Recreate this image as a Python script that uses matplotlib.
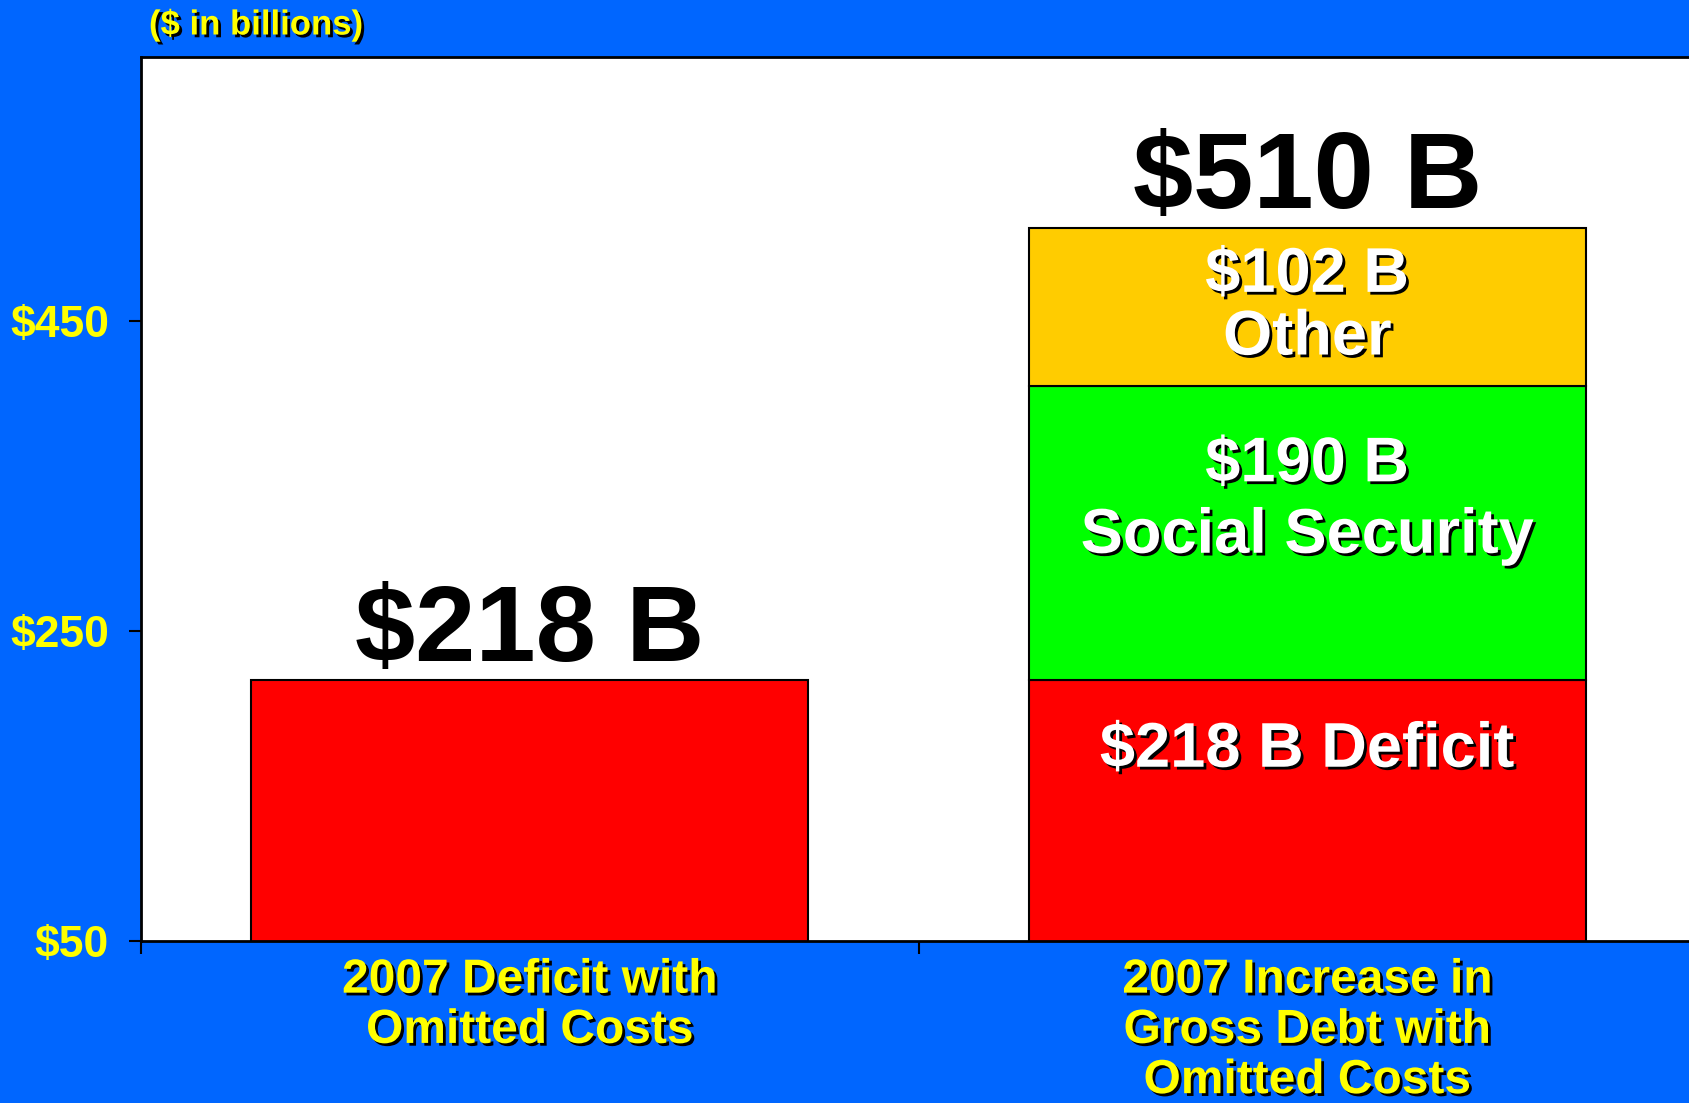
import matplotlib
matplotlib.use("Agg")
import matplotlib.pyplot as plt
import matplotlib.patheffects as pe
import numpy as np

categories = ["2007 Deficit with\nOmitted Costs",
              "2007 Increase in\nGross Debt with\nOmitted Costs"]
deficit = [218, 218]
social_security = [0, 190]
other = [0, 102]
totals = [218, 510]
total_labels = ["$218 B", "$510 B"]
segment_labels = ["$218 B Deficit", "$190 B\nSocial Security", "$102 B\nOther"]
yticks = [50, 250, 450]
ytick_labels = ["$50", "$250", "$450"]

BLUE = "#0066FF"
YELLOW = "#FFFF00"
plt.rcParams['font.family'] = ['Liberation Sans', 'DejaVu Sans']

fig = plt.figure(figsize=(16.9, 11.03), dpi=100, facecolor=BLUE)
ax = fig.add_axes([141/1690, 1-941/1103, (1696-141)/1690, (941-57)/1103])
ax.set_facecolor("white")

x = np.arange(len(categories))
w = 0.717
ek = dict(edgecolor="black", linewidth=1.5, width=w)
ax.bar(x, deficit, color="#FF0000", **ek)
ax.bar(x[1:], social_security[1:], bottom=deficit[1:], color="#00FF00", **ek)
ax.bar(x[1:], other[1:], bottom=np.add(deficit, social_security)[1:], color="#FFCC00", **ek)

ax.set_xlim(-0.5, 1.5)
ax.set_ylim(50, 620)

shadow = [pe.SimplePatchShadow(offset=(2, -2), shadow_rgbFace="black", alpha=1.0), pe.Normal()]

# totals on top
for xi, t, lab in zip(x, totals, total_labels):
    ax.annotate(lab, (xi, t), xytext=(0, 14), textcoords="offset points",
                ha="center", va="baseline", fontsize=78, fontweight="bold", color="black")

# segment labels
seg_y = [173, 334, 459]
for yy, lab, ls in zip(seg_y, segment_labels, [1.0, 1.27, 1.08]):
    ax.text(x[1], yy, lab, ha="center", va="center", fontsize=45.5, fontweight="bold",
            color="white", linespacing=ls, path_effects=shadow)

ax.set_yticks(yticks)
ax.set_yticklabels(ytick_labels, fontsize=32, fontweight="bold", color=YELLOW)
ax.tick_params(axis="y", direction="out", length=9, width=1.5, pad=14, colors="black", labelcolor=YELLOW)

ax.set_xticks(x)
ax.set_xticklabels(categories, fontsize=34.5, fontweight="bold", color=YELLOW, linespacing=1.15)
for t in ax.get_xticklabels():
    t.set_path_effects(shadow)
ax.tick_params(axis="x", length=0, pad=12)
ax.set_xticks([-0.5, 0.5, 1.5], minor=True)
ax.tick_params(axis="x", which="minor", direction="out", length=9, width=1.5, colors="black")

for s in ax.spines.values():
    s.set_linewidth(2)
    s.set_color("black")

fig.text(149/1690, 1-25/1103, "($ in billions)", ha="left", va="center", fontsize=25,
         fontweight="bold", color=YELLOW, path_effects=shadow)

fig.savefig("out.png", dpi=100, facecolor=BLUE)
